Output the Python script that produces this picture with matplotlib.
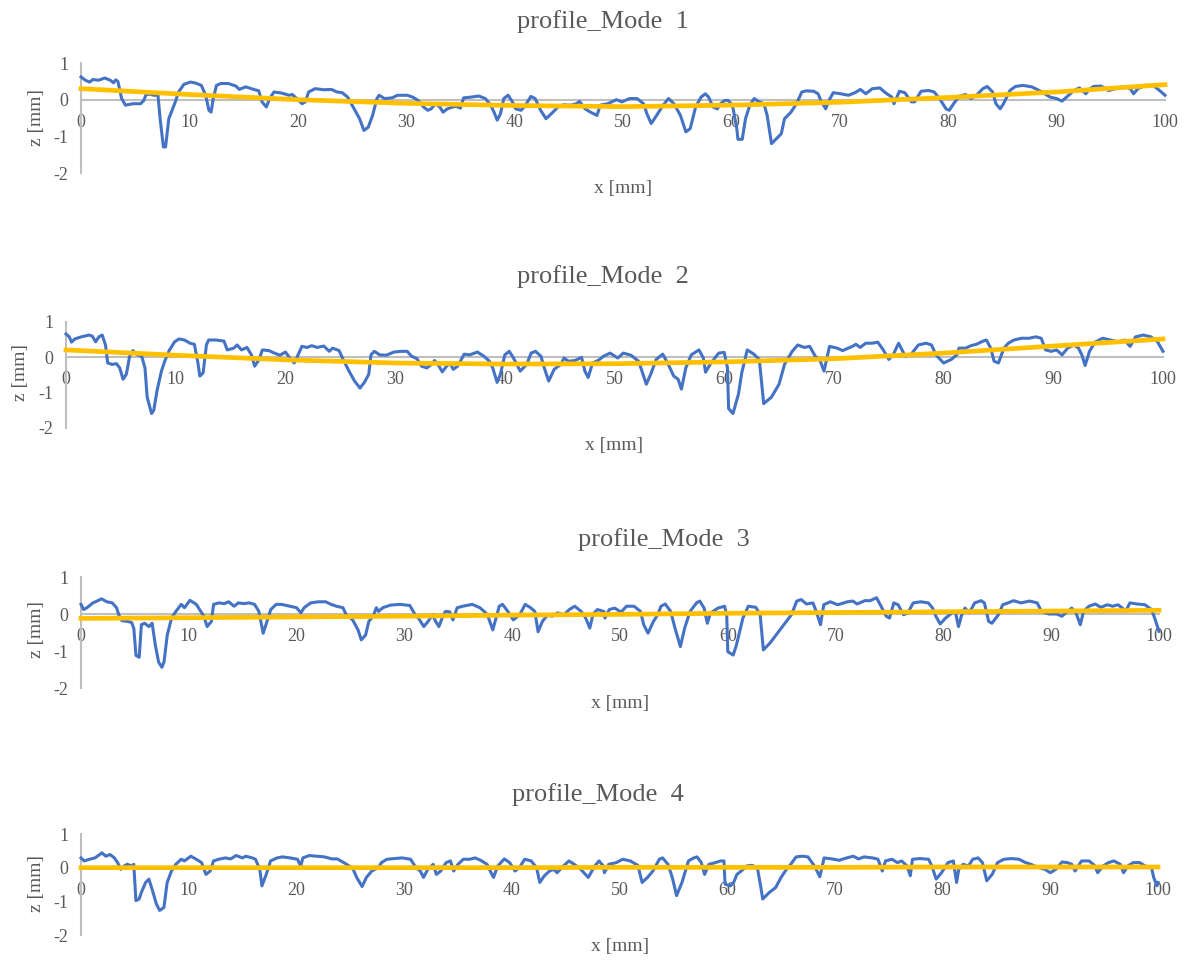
import matplotlib
matplotlib.use("Agg")
import matplotlib.pyplot as plt

plt.rcParams['font.family'] = ['Liberation Serif', 'DejaVu Serif']
plt.rcParams['axes.unicode_minus'] = False

# profile data, (x mm, z mm)
mode1_profile = [
    (0, 0.62), (0.4, 0.53), (0.8, 0.48), (1.1, 0.55), (1.6, 0.53), (2.2, 0.59), (2.7, 0.53), (3.0, 0.46),
    (3.2, 0.54), (3.4, 0.50), (3.75, 0.03), (4.1, -0.15), (4.8, -0.11), (5.5, -0.11), (5.8, -0.02), (6.0, 0.14),
    (6.4, 0.15), (6.7, 0.12), (7.1, 0.12), (7.3, -0.52), (7.6, -1.29), (7.8, -1.29), (8.1, -0.52), (8.7, -0.06),
    (9.0, 0.21), (9.5, 0.42), (10.1, 0.48), (10.6, 0.45), (11.1, 0.39), (11.5, 0.12), (11.8, -0.29), (12.0, -0.34),
    (12.2, 0.03), (12.5, 0.39), (12.9, 0.44), (13.6, 0.44), (14.3, 0.37), (14.6, 0.28), (15.2, 0.35), (15.7, 0.30),
    (16.4, 0.24), (16.7, -0.06), (17.1, -0.20), (17.4, 0.03), (17.8, 0.21), (18.5, 0.18), (19.2, 0.12), (19.5, 0.14),
    (19.9, 0.03), (20.4, -0.11), (20.7, -0.06), (21.0, 0.21), (21.6, 0.30), (22.4, 0.27), (23.1, 0.28), (23.6, 0.21),
    (24.1, 0.19), (24.6, 0.07), (25.2, -0.25), (25.7, -0.52), (26.1, -0.84), (26.5, -0.75), (26.9, -0.43), (27.3, 0.03),
    (27.5, 0.12), (28.0, 0.03), (28.7, 0.05), (29.2, 0.12), (30.1, 0.12), (30.6, 0.07), (31.1, -0.02), (31.6, -0.20),
    (32.0, -0.29), (32.3, -0.25), (32.7, -0.11), (33.1, -0.20), (33.4, -0.34), (33.8, -0.25), (34.3, -0.20), (34.6, -0.18),
    (35.0, -0.23), (35.3, 0.05), (36.0, 0.07), (36.7, 0.10), (37.3, 0.03), (37.8, -0.15), (38.1, -0.34), (38.4, -0.56),
    (38.7, -0.38), (39.0, 0.03), (39.4, 0.12), (39.8, -0.06), (40.1, -0.25), (40.6, -0.29), (41.0, -0.15), (41.5, 0.09),
    (41.9, 0.03), (42.4, -0.29), (42.9, -0.52), (43.4, -0.38), (44.0, -0.20), (44.5, -0.14), (45.2, -0.15), (45.7, -0.11),
    (46.0, -0.05), (46.5, -0.25), (47.0, -0.34), (47.6, -0.43), (47.9, -0.15), (48.6, -0.11), (49.4, 0.0), (49.9, -0.06),
    (50.6, 0.03), (51.3, 0.03), (51.9, -0.11), (52.2, -0.38), (52.6, -0.65), (53.1, -0.43), (53.7, -0.15), (54.2, 0.03),
    (54.7, -0.11), (55.3, -0.43), (55.8, -0.88), (56.2, -0.79), (56.7, -0.20), (57.2, 0.07), (57.6, 0.16), (57.9, 0.07),
    (58.3, -0.20), (58.7, -0.25), (59.0, -0.11), (59.4, -0.02), (59.7, -0.02), (60.1, -0.15), (60.5, -0.79), (60.6, -1.08),
    (61.0, -1.08), (61.3, -0.52), (61.7, -0.15), (62.1, 0.03), (62.5, -0.05), (63.0, -0.11), (63.3, -0.43), (63.7, -1.20),
    (64.0, -1.11), (64.6, -0.93), (64.9, -0.52), (65.5, -0.34), (66.0, -0.11), (66.5, 0.21), (66.9, 0.24), (67.6, 0.23),
    (68.0, 0.16), (68.3, -0.06), (68.7, -0.25), (69.0, -0.02), (69.4, 0.19), (70.1, 0.16), (70.8, 0.12), (71.4, 0.19),
    (71.9, 0.28), (72.4, 0.16), (73.0, 0.30), (73.7, 0.32), (74.2, 0.19), (74.8, 0.07), (75.0, -0.11), (75.5, 0.23),
    (76.0, 0.19), (76.6, -0.06), (76.9, -0.06), (77.5, 0.23), (78.2, 0.25), (78.7, 0.21), (79.2, 0.03), (79.8, -0.25),
    (80.1, -0.29), (80.5, -0.11), (81.0, 0.09), (81.6, 0.14), (82.1, 0.03), (82.6, 0.12), (83.2, 0.30), (83.6, 0.36),
    (84.1, 0.21), (84.4, -0.11), (84.8, -0.25), (85.1, -0.11), (85.7, 0.25), (86.2, 0.36), (86.9, 0.39), (87.7, 0.35),
    (88.4, 0.25), (88.9, 0.16), (89.4, 0.07), (90.0, 0.03), (90.5, -0.04), (91.1, 0.12), (91.6, 0.25), (92.1, 0.32),
    (92.7, 0.16), (93.0, 0.28), (93.4, 0.36), (94.1, 0.37), (94.8, 0.25), (95.5, 0.30), (96.2, 0.36), (96.8, 0.30),
    (97.1, 0.16), (97.5, 0.30), (98.2, 0.39), (98.9, 0.39), (99.5, 0.25), (100, 0.12),
]

mode2_profile = [
    (0, 0.66), (0.3, 0.58), (0.5, 0.43), (0.8, 0.52), (1.4, 0.58), (2.1, 0.63), (2.4, 0.60), (2.7, 0.44),
    (3.0, 0.58), (3.3, 0.63), (3.6, 0.35), (3.8, -0.16), (4.2, -0.20), (4.6, -0.18), (4.9, -0.30), (5.2, -0.62),
    (5.5, -0.48), (5.8, 0.03), (6.1, 0.19), (6.5, 0.07), (6.9, 0.03), (7.2, -0.30), (7.4, -1.13), (7.8, -1.59),
    (8.0, -1.50), (8.3, -0.94), (8.7, -0.39), (9.0, -0.11), (9.4, 0.19), (9.9, 0.44), (10.3, 0.52), (10.8, 0.49),
    (11.3, 0.40), (11.7, 0.37), (12.0, -0.11), (12.2, -0.53), (12.5, -0.44), (12.8, 0.35), (13.0, 0.49), (13.7, 0.49),
    (14.4, 0.46), (14.7, 0.21), (15.3, 0.26), (15.6, 0.35), (16.0, 0.21), (16.5, 0.28), (16.9, 0.07), (17.2, -0.25),
    (17.6, -0.06), (17.9, 0.21), (18.5, 0.19), (19.0, 0.12), (19.5, 0.06), (20.0, 0.15), (20.4, -0.02), (20.8, -0.16),
    (21.1, 0.03), (21.5, 0.31), (22.0, 0.28), (22.4, 0.33), (22.9, 0.28), (23.5, 0.32), (24.0, 0.17), (24.3, 0.26),
    (24.9, 0.19), (25.2, -0.02), (25.8, -0.39), (26.3, -0.67), (26.8, -0.87), (27.2, -0.71), (27.6, -0.48), (27.8, 0.07),
    (28.1, 0.17), (28.6, 0.07), (29.2, 0.06), (29.9, 0.15), (30.6, 0.17), (31.1, 0.17), (31.5, 0.03), (32.0, -0.04),
    (32.4, -0.25), (32.9, -0.30), (33.3, -0.20), (33.6, -0.09), (34.0, -0.25), (34.3, -0.41), (34.7, -0.25), (35.0, -0.16),
    (35.3, -0.34), (35.7, -0.25), (36.3, 0.09), (36.8, 0.07), (37.5, 0.15), (38.1, 0.03), (38.6, -0.11), (38.9, -0.30),
    (39.3, -0.71), (39.6, -0.48), (40.0, 0.07), (40.4, 0.17), (40.7, 0.03), (41.1, -0.20), (41.4, -0.39), (42.0, -0.20),
    (42.4, 0.12), (42.8, 0.17), (43.3, 0.03), (43.6, -0.30), (44.0, -0.67), (44.5, -0.34), (45.1, -0.20), (45.4, -0.02),
    (45.8, -0.11), (46.4, -0.09), (47.0, 0.0), (47.3, -0.39), (47.6, -0.57), (48.0, -0.16), (48.5, -0.09), (49.0, 0.03),
    (49.6, 0.12), (50.3, -0.02), (50.8, 0.12), (51.5, 0.06), (52.2, -0.11), (52.6, -0.48), (52.9, -0.76), (53.3, -0.48),
    (53.8, -0.06), (54.4, 0.09), (54.9, -0.20), (55.4, -0.53), (55.8, -0.62), (56.1, -0.90), (56.5, -0.30), (57.0, 0.07),
    (57.7, 0.21), (58.1, -0.02), (58.3, -0.42), (58.8, -0.16), (59.5, 0.12), (60.0, 0.14), (60.3, -0.30), (60.4, -1.45),
    (60.8, -1.59), (61.3, -1.04), (61.6, -0.44), (62.1, 0.21), (62.7, 0.09), (63.2, -0.06), (63.6, -1.31), (64.3, -1.13),
    (65.0, -0.76), (65.5, -0.20), (66.2, 0.17), (66.7, 0.35), (67.3, 0.28), (67.8, 0.31), (68.3, 0.03), (68.7, -0.06),
    (69.1, -0.39), (69.6, 0.31), (70.3, 0.26), (70.8, 0.19), (71.3, 0.26), (71.7, 0.31), (72.0, 0.37), (72.4, 0.28),
    (72.9, 0.40), (73.5, 0.40), (74.0, 0.43), (74.5, 0.21), (75.0, -0.06), (75.4, 0.07), (75.9, 0.40), (76.5, 0.03),
    (77.0, 0.07), (77.7, 0.35), (78.4, 0.40), (78.9, 0.35), (79.3, 0.07), (80.0, -0.16), (80.7, -0.06), (81.2, 0.07),
    (81.4, 0.26), (82.0, 0.26), (82.5, 0.33), (83.0, 0.37), (83.6, 0.46), (83.9, 0.49), (84.3, 0.26), (84.6, -0.11),
    (85.0, -0.16), (85.5, 0.26), (85.9, 0.40), (86.4, 0.49), (87.1, 0.54), (87.8, 0.54), (88.4, 0.58), (88.9, 0.54),
    (89.3, 0.21), (89.8, 0.17), (90.3, 0.21), (90.8, 0.07), (91.3, 0.26), (91.9, 0.35), (92.3, 0.26), (92.6, 0.07),
    (92.9, -0.23), (93.3, 0.17), (93.8, 0.43), (94.5, 0.54), (95.2, 0.49), (95.9, 0.44), (96.5, 0.49), (97.0, 0.31),
    (97.5, 0.58), (98.2, 0.63), (98.9, 0.58), (99.5, 0.44), (100, 0.17),
]

mode3_profile = [
    (0, 0.26), (0.25, 0.12), (0.6, 0.18), (1.1, 0.30), (1.5, 0.35), (1.9, 0.41), (2.4, 0.33), (2.9, 0.30),
    (3.3, 0.17), (3.5, -0.02), (3.8, -0.18), (4.3, -0.20), (4.7, -0.23), (4.9, -0.39), (5.1, -1.12), (5.4, -1.17),
    (5.6, -0.29), (5.9, -0.25), (6.3, -0.34), (6.6, -0.25), (6.9, -0.85), (7.2, -1.30), (7.5, -1.44), (7.7, -1.30),
    (8.0, -0.57), (8.4, -0.11), (8.8, 0.07), (9.3, 0.26), (9.6, 0.17), (10.1, 0.37), (10.7, 0.26), (11.0, 0.12),
    (11.4, -0.06), (11.7, -0.34), (12.1, -0.20), (12.3, 0.26), (12.8, 0.30), (13.3, 0.28), (13.7, 0.33), (14.2, 0.21),
    (14.6, 0.30), (15.1, 0.28), (15.6, 0.30), (16.1, 0.26), (16.5, 0.07), (16.9, -0.52), (17.2, -0.25), (17.6, 0.12),
    (18.1, 0.26), (18.6, 0.26), (19.4, 0.21), (20.0, 0.17), (20.4, 0.03), (20.7, 0.17), (21.3, 0.30), (22.0, 0.33),
    (22.7, 0.33), (23.2, 0.26), (23.7, 0.21), (24.3, 0.17), (24.6, -0.02), (25.2, -0.16), (25.7, -0.43), (26.0, -0.70),
    (26.4, -0.57), (26.7, -0.20), (27.1, -0.06), (27.4, 0.17), (27.6, 0.07), (28.0, 0.17), (28.7, 0.24), (29.6, 0.26),
    (30.5, 0.23), (31.0, -0.02), (31.3, -0.11), (31.8, -0.34), (32.2, -0.20), (32.6, -0.02), (32.9, -0.20), (33.2, -0.34),
    (33.5, -0.11), (33.8, 0.07), (34.2, 0.06), (34.5, -0.16), (34.9, 0.17), (35.4, 0.21), (36.3, 0.26), (37.0, 0.17),
    (37.4, 0.07), (37.7, -0.02), (38.2, -0.43), (38.8, 0.21), (39.1, 0.26), (39.6, 0.07), (40.1, -0.16), (40.7, -0.02),
    (41.2, 0.26), (41.7, 0.17), (42.1, 0.07), (42.4, -0.48), (42.8, -0.20), (43.3, -0.02), (43.7, -0.06), (44.2, 0.03),
    (44.8, -0.02), (45.3, 0.12), (45.8, 0.21), (46.4, 0.07), (46.8, -0.10), (47.2, -0.38), (47.5, 0.0), (47.9, 0.12),
    (48.5, 0.07), (48.6, -0.11), (49.0, 0.12), (49.5, 0.16), (50.1, 0.05), (50.6, 0.21), (51.3, 0.21), (51.9, 0.07),
    (52.2, -0.29), (52.6, -0.52), (53.1, -0.20), (53.5, -0.02), (53.8, 0.21), (54.2, 0.27), (54.7, 0.07), (55.1, -0.38),
    (55.6, -0.88), (56.0, -0.38), (56.5, 0.07), (57.1, 0.30), (57.4, 0.35), (57.8, 0.16), (58.1, -0.25), (58.4, 0.03),
    (59.1, 0.16), (59.7, 0.21), (59.9, -0.02), (60.0, -1.02), (60.5, -1.11), (60.8, -0.84), (61.4, -0.11), (61.9, 0.21),
    (62.6, 0.18), (63.0, -0.02), (63.3, -0.97), (63.9, -0.79), (64.6, -0.52), (65.3, -0.25), (65.9, -0.02), (66.4, 0.35),
    (66.8, 0.39), (67.3, 0.27), (67.9, 0.30), (68.2, 0.07), (68.6, -0.29), (68.9, 0.25), (69.5, 0.33), (70.2, 0.25),
    (71.1, 0.33), (71.6, 0.35), (72.0, 0.27), (72.7, 0.36), (73.2, 0.36), (73.8, 0.44), (74.3, 0.16), (74.7, -0.06),
    (75.0, -0.11), (75.4, 0.30), (75.8, 0.25), (76.3, -0.02), (76.7, 0.03), (77.2, 0.30), (77.9, 0.33), (78.6, 0.30),
    (79.0, 0.16), (79.3, -0.06), (79.7, -0.27), (80.2, -0.11), (80.8, 0.03), (81.1, 0.07), (81.4, -0.34), (81.7, -0.02),
    (82.0, 0.16), (82.4, 0.03), (82.9, 0.30), (83.5, 0.36), (83.8, 0.30), (84.2, -0.20), (84.5, -0.25), (85.1, -0.02),
    (85.5, 0.25), (86.0, 0.30), (86.5, 0.36), (87.2, 0.30), (88.0, 0.35), (88.7, 0.30), (89.1, 0.07), (89.8, 0.0),
    (90.5, 0.0), (91.0, -0.06), (91.5, 0.07), (91.9, 0.16), (92.3, 0.03), (92.7, -0.29), (93.0, 0.07), (93.5, 0.21),
    (94.1, 0.27), (94.6, 0.18), (95.2, 0.25), (95.7, 0.21), (96.2, 0.25), (96.6, 0.16), (96.9, 0.07), (97.3, 0.30),
    (98.0, 0.27), (98.7, 0.25), (99.3, 0.12), (99.6, -0.11), (100, -0.47),
]

mode4_profile = [
    (0, 0.29), (0.3, 0.20), (0.8, 0.25), (1.3, 0.29), (1.6, 0.36), (1.95, 0.44), (2.3, 0.34), (2.7, 0.39),
    (3.1, 0.29), (3.4, 0.15), (3.7, -0.05), (4.0, 0.05), (4.3, 0.10), (4.7, 0.05), (4.9, 0.10), (5.1, -0.98),
    (5.4, -0.93), (5.6, -0.74), (6.0, -0.44), (6.3, -0.34), (6.6, -0.64), (7.0, -1.08), (7.3, -1.27), (7.7, -1.18),
    (8.0, -0.44), (8.4, -0.10), (8.8, 0.10), (9.3, 0.25), (9.6, 0.20), (10.2, 0.34), (10.7, 0.25), (11.2, 0.15),
    (11.6, -0.20), (12.0, -0.10), (12.3, 0.20), (12.8, 0.25), (13.4, 0.29), (13.9, 0.26), (14.4, 0.36), (15.0, 0.29),
    (15.3, 0.34), (15.9, 0.29), (16.2, 0.25), (16.6, -0.05), (16.8, -0.54), (17.2, -0.20), (17.6, 0.20), (18.2, 0.29),
    (18.7, 0.32), (19.4, 0.29), (20.1, 0.25), (20.4, 0.05), (20.6, 0.29), (21.2, 0.36), (21.9, 0.34), (22.6, 0.32),
    (23.3, 0.26), (23.8, 0.26), (24.4, 0.15), (24.9, 0.05), (25.2, 0.0), (25.6, -0.29), (26.1, -0.56), (26.5, -0.29),
    (27.0, -0.10), (27.6, 0.0), (27.9, 0.15), (28.4, 0.25), (29.1, 0.27), (29.8, 0.29), (30.6, 0.25), (31.1, 0.0),
    (31.5, -0.10), (31.8, -0.29), (32.2, -0.05), (32.7, 0.10), (33.0, -0.20), (33.4, -0.10), (33.9, 0.15), (34.3, 0.20),
    (34.6, -0.10), (35.0, 0.10), (35.5, 0.25), (36.1, 0.25), (36.6, 0.29), (37.1, 0.22), (37.7, 0.10), (38.0, -0.10),
    (38.3, -0.29), (38.7, 0.05), (39.3, 0.26), (39.8, 0.15), (40.3, -0.10), (40.7, 0.0), (41.2, 0.25), (41.8, 0.20),
    (42.3, 0.0), (42.6, -0.44), (43.0, -0.25), (43.5, -0.10), (43.9, -0.05), (44.2, -0.15), (44.8, 0.05), (45.3, 0.20),
    (45.8, 0.10), (46.4, -0.05), (47.1, -0.29), (47.7, 0.05), (48.1, 0.20), (48.5, 0.05), (48.6, -0.15), (49.0, 0.10),
    (49.7, 0.15), (50.3, 0.25), (51.0, 0.20), (51.7, 0.07), (52.1, -0.44), (52.6, -0.29), (53.1, -0.10), (53.7, 0.25),
    (54.0, 0.29), (54.5, 0.10), (54.9, -0.29), (55.3, -0.83), (55.8, -0.44), (56.4, 0.20), (56.9, 0.29), (57.2, 0.32),
    (57.6, 0.15), (57.9, -0.20), (58.3, 0.10), (58.9, 0.15), (59.4, 0.20), (59.7, 0.20), (59.8, -0.49), (60.3, -0.54),
    (60.6, -0.44), (60.9, -0.20), (61.3, -0.10), (61.8, 0.05), (62.3, 0.07), (62.8, 0.0), (63.1, -0.54), (63.3, -0.93),
    (63.9, -0.74), (64.5, -0.59), (65.0, -0.29), (65.5, -0.05), (65.9, 0.10), (66.4, 0.32), (67.0, 0.34), (67.5, 0.32),
    (68.1, 0.05), (68.6, -0.27), (69.0, 0.29), (69.7, 0.26), (70.4, 0.22), (71.1, 0.29), (71.7, 0.34), (72.2, 0.26),
    (72.7, 0.32), (73.5, 0.29), (74.0, 0.25), (74.4, -0.10), (74.7, 0.20), (75.3, 0.25), (75.8, 0.15), (76.2, 0.20),
    (76.7, 0.05), (77.0, -0.24), (77.2, 0.25), (77.9, 0.27), (78.7, 0.25), (79.0, 0.05), (79.4, -0.34), (79.9, -0.15),
    (80.5, 0.15), (81.0, 0.20), (81.3, -0.44), (81.5, -0.05), (81.9, 0.10), (82.4, 0.05), (82.8, 0.25), (83.3, 0.29),
    (83.7, 0.15), (84.1, -0.39), (84.6, -0.20), (85.1, 0.15), (85.7, 0.25), (86.4, 0.27), (87.1, 0.25), (87.7, 0.15),
    (88.2, 0.10), (88.7, 0.03), (89.5, -0.05), (90.0, -0.15), (90.5, -0.05), (91.1, 0.17), (91.6, 0.15), (92.0, 0.10),
    (92.3, -0.10), (92.9, 0.20), (93.6, 0.20), (94.1, 0.07), (94.4, -0.15), (94.9, 0.05), (95.4, 0.15), (95.9, 0.20),
    (96.5, 0.10), (96.8, -0.15), (97.2, 0.05), (97.7, 0.15), (98.3, 0.15), (98.8, 0.05), (99.4, 0.0), (99.6, -0.29),
    (99.9, -0.54), (100, -0.44),
]

# trend lines (yellow), values at every 10 mm
trend_x = [0, 10, 20, 30, 40, 50, 60, 70, 80, 90, 100]
mode1_trend = [0.30, 0.14, 0.0, -0.10, -0.16, -0.19, -0.15, -0.07, 0.06, 0.21, 0.41]
mode2_trend = [0.21, 0.06, -0.07, -0.16, -0.19, -0.18, -0.13, -0.04, 0.12, 0.32, 0.52]
mode3_trend = [-0.12, -0.10, -0.08, -0.06, -0.03, -0.01, 0.02, 0.04, 0.06, 0.08, 0.10]
mode4_trend = [0.0, 0.0, 0.0, 0.0, 0.0, 0.01, 0.01, 0.01, 0.02, 0.02, 0.02]

titles = ['profile_Mode  1', 'profile_Mode  2', 'profile_Mode  3', 'profile_Mode  4']
x_ticks = [0, 10, 20, 30, 40, 50, 60, 70, 80, 90, 100]
y_ticks = [-2, -1, 0, 1]

W, H = 1187, 963
fig = plt.figure(figsize=(W / 100, H / 100), dpi=100)

txt = '#595959'
axis_grey = '#BFBFBF'

# pixel layout: (left, top, right, bottom) of plot area, title centre, ylabel centre, xlabel centre
layout = [
    ((81, 63, 1165, 173), (603, 22), (37, 117), (623, 188)),
    ((66, 322, 1163, 428), (603, 277), (21, 372), (614, 445)),
    ((81, 577, 1159, 688), (664, 540), (37, 630), (620, 703)),
    ((81, 834, 1158, 935), (598, 795), (37, 883), (620, 946)),
]
profiles = [mode1_profile, mode2_profile, mode3_profile, mode4_profile]
trends = [mode1_trend, mode2_trend, mode3_trend, mode4_trend]

for i in range(4):
    (l, t, r, b), tpos, ypos, xpos = layout[i]
    ax = fig.add_axes([l / W, 1 - b / H, (r - l) / W, (b - t) / H])
    xs = [p[0] for p in profiles[i]]
    zs = [p[1] for p in profiles[i]]
    ax.plot(xs, zs, color='#4472C4', lw=2.2, solid_joinstyle='round', zorder=3, clip_on=False)
    ax.plot(trend_x, trends[i], color='#FFC000', lw=3.4, zorder=4, clip_on=False)
    ax.set_xlim(0, 100)
    ax.set_ylim(-2, 1)
    ax.set_xticks(x_ticks)
    ax.set_yticks(y_ticks)
    for s in ['top', 'right']:
        ax.spines[s].set_visible(False)
    ax.spines['bottom'].set_position(('data', 0))
    ax.spines['bottom'].set_color(axis_grey)
    ax.spines['left'].set_color(axis_grey)
    ax.spines['bottom'].set_linewidth(1.5)
    ax.spines['left'].set_linewidth(1.5)
    ax.tick_params(length=0, labelsize=13, colors=txt)
    ax.tick_params(axis='x', pad=10)
    ax.tick_params(axis='y', pad=9)
    ax.patch.set_alpha(0)
    fig.text(tpos[0] / W, 1 - tpos[1] / H, titles[i], ha='center', va='center', fontsize=19, color=txt)
    fig.text(ypos[0] / W, 1 - ypos[1] / H, 'z [mm]', ha='center', va='center', rotation=90, fontsize=14, color=txt)
    fig.text(xpos[0] / W, 1 - xpos[1] / H, 'x [mm]', ha='center', va='center', fontsize=14, color=txt)

fig.savefig('out.png', dpi=100)
